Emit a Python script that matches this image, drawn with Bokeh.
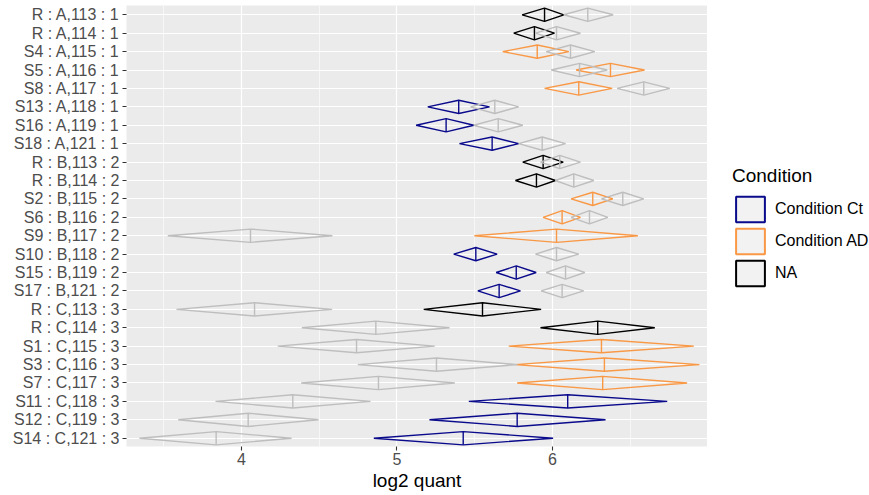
from bokeh.plotting import figure
from bokeh.layouts import row
from bokeh.models import FixedTicker, Legend, LegendItem, Range1d, ColumnDataSource
from bokeh.embed import file_html
from bokeh.resources import INLINE

# ---- data ----
labels = ["R : A,113 : 1", "R : A,114 : 1", "S4 : A,115 : 1", "S5 : A,116 : 1",
          "S8 : A,117 : 1", "S13 : A,118 : 1", "S16 : A,119 : 1", "S18 : A,121 : 1",
          "R : B,113 : 2", "R : B,114 : 2", "S2 : B,115 : 2", "S6 : B,116 : 2",
          "S9 : B,117 : 2", "S10 : B,118 : 2", "S15 : B,119 : 2", "S17 : B,121 : 2",
          "R : C,113 : 3", "R : C,114 : 3", "S1 : C,115 : 3", "S3 : C,116 : 3",
          "S7 : C,117 : 3", "S11 : C,118 : 3", "S12 : C,119 : 3", "S14 : C,121 : 3"]
condition = ["NA", "NA", "AD", "AD", "AD", "Ct", "Ct", "Ct",
             "NA", "NA", "AD", "AD", "AD", "Ct", "Ct", "Ct",
             "NA", "NA", "AD", "AD", "AD", "Ct", "Ct", "Ct"]
# coloured (normalised) diamonds: low, centre, high
norm_lo = [5.805, 5.751, 5.680, 6.152, 5.950, 5.198, 5.123, 5.402,
           5.809, 5.762, 6.120, 5.940, 5.498, 5.365, 5.638, 5.520,
           5.172, 5.923, 5.719, 5.762, 5.773, 5.462, 5.209, 4.851]
norm_mid = [5.949, 5.884, 5.902, 6.373, 6.169, 5.397, 5.316, 5.612,
            5.940, 5.897, 6.259, 6.062, 6.026, 5.507, 5.767, 5.657,
            5.550, 6.291, 6.315, 6.334, 6.323, 6.098, 5.773, 5.426]
norm_hi = [6.073, 6.013, 6.105, 6.592, 6.384, 5.595, 5.494, 5.783,
           6.069, 6.019, 6.388, 6.180, 6.549, 5.644, 5.895, 5.794,
           5.927, 6.658, 6.909, 6.945, 6.866, 6.738, 6.341, 6.004]
# grey (raw) diamonds: low, centre, high
raw_lo = [6.073, 5.891, 5.960, 5.992, 6.416, 5.473, 5.494, 5.783,
          5.923, 6.019, 6.315, 6.120, 3.526, 5.891, 5.960, 5.927,
          3.582, 4.388, 4.233, 4.748, 4.384, 3.833, 3.593, 3.344]
raw_mid = [6.227, 6.026, 6.116, 6.174, 6.587, 5.629, 5.651, 5.934,
           6.047, 6.137, 6.452, 6.238, 4.058, 6.026, 6.084, 6.062,
           4.084, 4.864, 4.740, 5.254, 4.881, 4.330, 4.043, 3.837]
raw_hi = [6.390, 6.180, 6.272, 6.352, 6.754, 5.783, 5.809, 6.084,
          6.180, 6.266, 6.587, 6.356, 4.585, 6.169, 6.208, 6.201,
          4.583, 5.338, 5.243, 5.775, 5.372, 4.830, 4.495, 4.322]

legend_labels = {"Ct": "Condition Ct", "AD": "Condition AD", "NA": "NA"}
colors = {"Ct": "#0A0A8C", "AD": "#F99845", "NA": "#000000"}
GREY = "#BEBEBE"
HALF = 0.36  # diamond half-height in row units
FONT = "Liberation Sans"

n = len(labels)
ypos = [n - 1 - i for i in range(n)]


def diamonds(lo, mid, hi):
    xs = [[a, b, c, b, a] for a, b, c in zip(lo, mid, hi)]
    ys = [[y, y + HALF, y, y - HALF, y] for y in ypos]
    return xs, ys


p = figure(width=707, height=495, output_backend="svg", toolbar_location=None,
           x_range=Range1d(3.2605, 6.997), y_range=Range1d(-0.45, n - 1 + 0.505),
           min_border_left=126, min_border_right=0, min_border_top=5,
           min_border_bottom=49)
p.background_fill_color = "#EBEBEB"
p.border_fill_color = "white"
p.outline_line_color = None

# coloured diamonds
nxs, nys = diamonds(norm_lo, norm_mid, norm_hi)
src_n = ColumnDataSource(dict(xs=nxs, ys=nys, mid=norm_mid,
                              y0=[y - HALF for y in ypos], y1=[y + HALF for y in ypos],
                              col=[colors[c] for c in condition]))
p.patches("xs", "ys", source=src_n, fill_alpha=0, line_color="col", line_width=1.4)
p.segment(x0="mid", y0="y0", x1="mid", y1="y1", source=src_n, line_color="col", line_width=1.4)

# grey diamonds
gxs, gys = diamonds(raw_lo, raw_mid, raw_hi)
src_g = ColumnDataSource(dict(xs=gxs, ys=gys, mid=raw_mid,
                              y0=[y - HALF for y in ypos], y1=[y + HALF for y in ypos]))
p.patches("xs", "ys", source=src_g, fill_alpha=0, line_color=GREY, line_width=1.4)
p.segment(x0="mid", y0="y0", x1="mid", y1="y1", source=src_g, line_color=GREY, line_width=1.4)

# axes
xt = FixedTicker(ticks=[4, 5, 6], minor_ticks=[3.5, 4.5, 5.5, 6.5])
p.xaxis.ticker = xt
p.xgrid.ticker = xt
p.yaxis.ticker = FixedTicker(ticks=ypos)
p.ygrid.ticker = FixedTicker(ticks=ypos)
p.yaxis.major_label_overrides = {y: lab for y, lab in zip(ypos, labels)}

for g in (p.xgrid, p.ygrid):
    g.grid_line_color = "white"
    g.grid_line_width = 1.2
p.xgrid.minor_grid_line_color = "white"
p.xgrid.minor_grid_line_width = 0.6

for ax in (p.xaxis, p.yaxis):
    ax.axis_line_color = None
    ax.major_tick_line_color = "#333333"
    ax.major_tick_line_width = 1.1
    ax.major_tick_out = 4
    ax.major_tick_in = 0
    ax.minor_tick_line_color = None
    ax.major_label_text_color = "#4D4D4D"
    ax.major_label_text_font = FONT
    ax.major_label_text_font_size = "16px"
    ax.major_label_standoff = 3
p.xaxis.major_label_standoff = 2

p.xaxis.axis_label = "log2 quant"
p.xaxis.axis_label_text_font = FONT
p.xaxis.axis_label_text_font_size = "19px"
p.xaxis.axis_label_text_font_style = "normal"
p.xaxis.axis_label_text_color = "black"
p.xaxis.axis_label_standoff = 2

# legend panel (its key renderers carry no visible data)
lf = figure(width=162, height=495, output_backend="svg", toolbar_location=None,
            x_range=Range1d(0, 1), y_range=Range1d(0, 1), min_border=0,
            x_axis_location=None, y_axis_location=None)
lf.xgrid.visible = False
lf.ygrid.visible = False
lf.outline_line_color = None
lf.background_fill_color = "white"
lf.border_fill_color = "white"

nan = float("nan")
items = []
for key in ["Ct", "AD", "NA"]:
    r = lf.quad(left=[nan], right=[nan], top=[nan], bottom=[nan], fill_color="#F2F2F2",
                line_color=colors[key], line_width=2)
    items.append(LegendItem(label=legend_labels[key], renderers=[r]))

legend = Legend(items=items, title="Condition", location=(25, 157),
                title_text_font=FONT, title_text_font_size="19px",
                title_text_font_style="normal", title_text_color="black",
                label_text_font=FONT, label_text_font_size="16px", label_text_color="black",
                glyph_width=36, glyph_height=32, spacing=0, padding=0, margin=0,
                label_standoff=7, title_standoff=6,
                border_line_color=None, background_fill_alpha=0)
lf.add_layout(legend, "center")

layout = row(p, lf, spacing=0)
open("out.html", "w").write(file_html(layout, INLINE))
